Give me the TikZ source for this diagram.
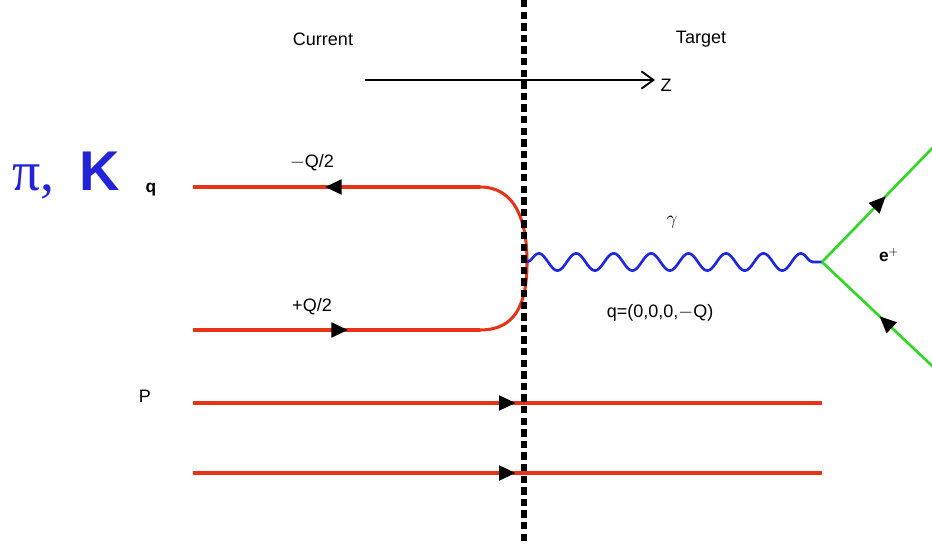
\documentclass[tikz,border=0pt]{standalone}
\usepackage{fontspec}
\setmainfont{Liberation Sans}
\usetikzlibrary{arrows.meta,decorations.pathmorphing,decorations.markings}
\definecolor{quark}{RGB}{232,52,22}
\definecolor{phot}{RGB}{30,40,225}
\definecolor{lep}{RGB}{50,215,40}
\definecolor{pik}{RGB}{35,35,215}
\tikzset{
  lbl/.style={font=\fontsize{13.5}{16}\selectfont, text=black, inner sep=0pt},
  qline/.style={draw=quark, line width=2.3pt},
  lline/.style={draw=lep, line width=2pt},
  midarrow/.style={postaction={decorate, decoration={markings,
      mark=at position #1 with {\arrow[black]{Triangle[length=12.5pt,width=11pt]}}}}},
  midarrowrev/.style={postaction={decorate, decoration={markings,
      mark=at position #1 with {\arrowreversed[black]{Triangle[length=12.5pt,width=11pt]}}}}},
}
\begin{document}
\begin{tikzpicture}[x=0.75pt,y=-0.75pt]
\useasboundingbox (0,0) rectangle (932,545);
% coordinates
\coordinate (cut top) at (524,0);
\coordinate (cut bot) at (524,545);
\coordinate (z0) at (365,80);
\coordinate (z1) at (655,80);
\coordinate (qa) at (193,187);
\coordinate (qb) at (480,187);
\coordinate (qc) at (527,262);
\coordinate (qd) at (480,330);
\coordinate (qe) at (193,330);
\coordinate (vtx) at (822,262);
\coordinate (eup) at (945,135);
\coordinate (edn) at (945,378);
\coordinate (p1a) at (193,403);
\coordinate (p1b) at (822,403);
\coordinate (p2a) at (193,473);
\coordinate (p2b) at (822,473);
% labels
\node[lbl] (current) at (323,39) {Current};
\node[lbl] (target) at (701,39) {Target};
\node[lbl] (zlab) at (666,85) {Z};
\node[lbl, font=\fontsize{13}{15}\selectfont\bfseries] (qlab) at (151,190) {q};
\node[lbl] (mq) at (312,163) {$-$Q/2};
\node[lbl] (pq) at (312,307) {+Q/2};
\node[lbl, font=\fontsize{15}{17}\selectfont] (gam) at (672,222) {$\gamma$};
\node[lbl] (qv) at (660,313) {q=(0,0,0,$-$Q)};
\node[lbl, font=\fontsize{13}{15}\selectfont\bfseries] (elab) at (889,255) {e$^{+}$};
\node[lbl] (plab) at (145,396) {P};
\node[inner sep=0pt, text=pik, anchor=base west] (pik) at (12,191)
  {\fontsize{42}{44}\selectfont\fontspec{Liberation Serif}π,\hspace{0.45em}\fontspec{Liberation Sans}\bfseries K};
% z axis
\draw[black, line width=1.4pt, -{Straight Barb[length=9pt,width=13pt,line width=1.4pt]}] (z0) -- (z1);
% quark loop
\draw[qline, midarrow=0.54] (qb) -- (qa);
\draw[qline] (qb) .. controls (515,187) and (527,220) .. (qc)
   .. controls (527,305) and (515,330) .. (qd);
\draw[qline, midarrow=0.54] (qe) -- (qd);
% proton lines
\draw[qline, midarrow=0.513] (p1a) -- (p1b);
\draw[qline, midarrow=0.513] (p2a) -- (p2b);
% photon
\draw[phot, line width=2pt, decorate, decoration={snake, segment length=28.1, amplitude=6.5, pre length=0, post length=0}] (qc) -- (vtx);
% leptons
\draw[lline, midarrow=0.52] (vtx) -- (eup);
\draw[lline, midarrowrev=0.47] (vtx) -- (edn);
% cut line
\draw[black, line width=4pt, dash pattern=on 5.5pt off 3.2pt] (cut top) -- (cut bot);
\end{tikzpicture}
\end{document}
